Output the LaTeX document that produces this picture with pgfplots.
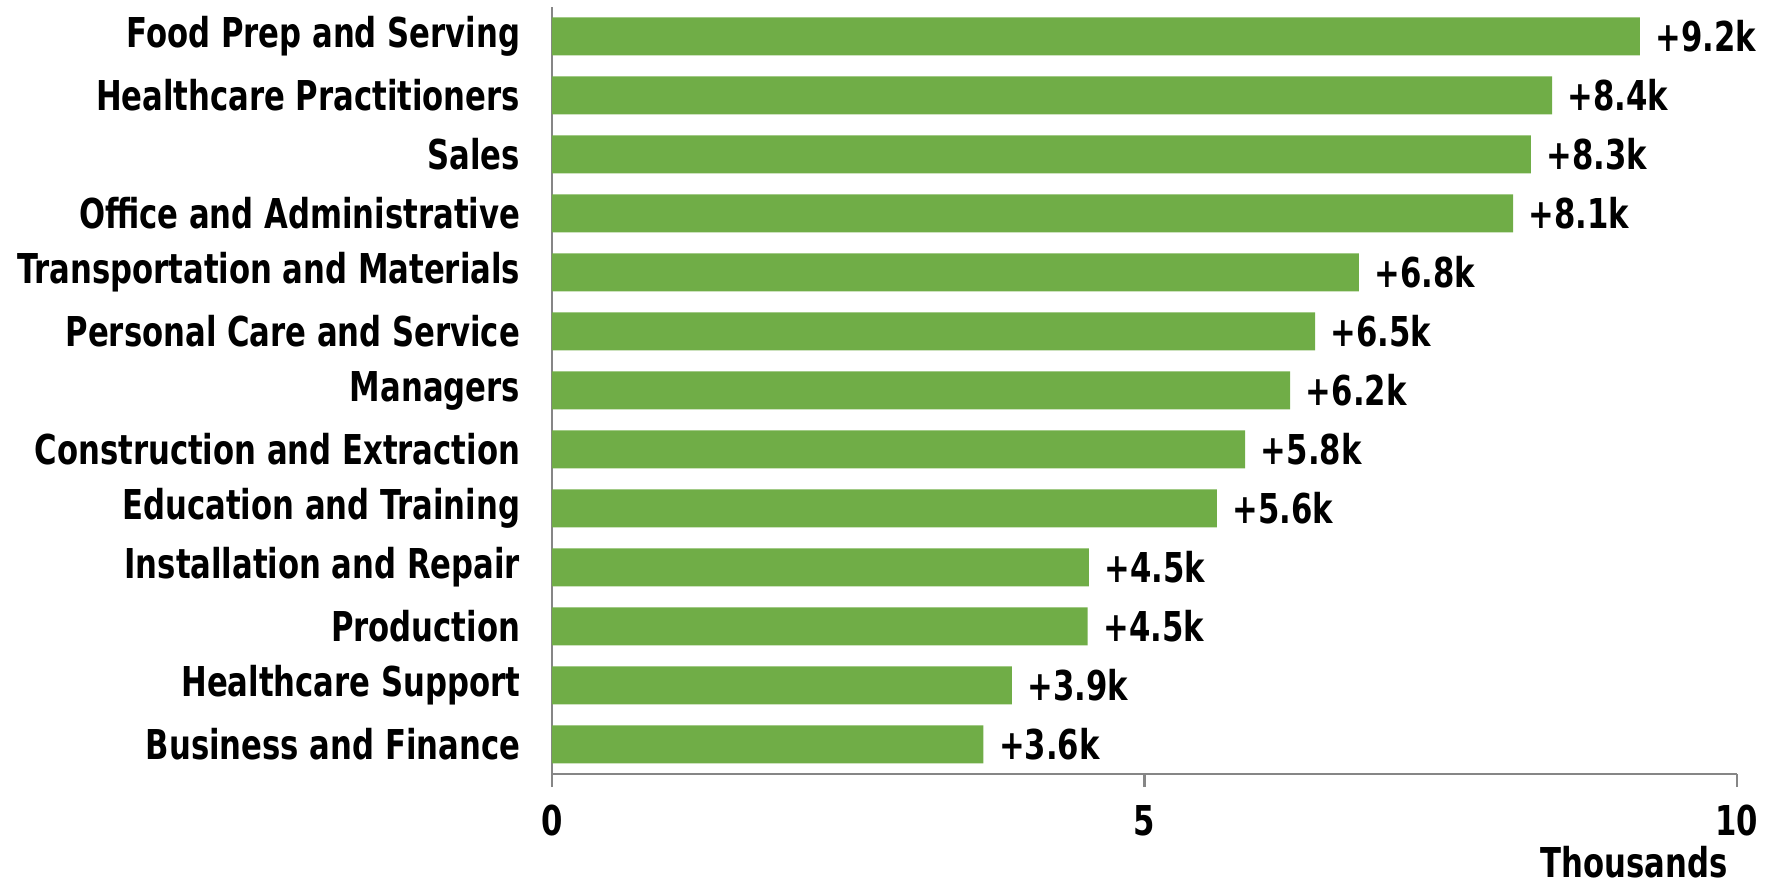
\documentclass[border=0pt]{standalone}
\usepackage{fontspec}
\setmainfont{DejaVu Sans Condensed}[BoldFont={DejaVu Sans Condensed Bold}, FakeStretch=0.83]
\usepackage{pgfplots}
\pgfplotsset{compat=1.18}
\usepackage{pgfplotstable}
\definecolor{bargreen}{HTML}{70AD47}
\definecolor{axisgray}{HTML}{868686}

% job growth by occupation group, thousands
\pgfplotstableread{
idx val lab
12 9.18 +9.2k
11 8.44 +8.4k
10 8.26 +8.3k
9  8.11 +8.1k
8  6.81 +6.8k
7  6.44 +6.5k
6  6.23 +6.2k
5  5.85 +5.8k
4  5.61 +5.6k
3  4.53 +4.5k
2  4.52 +4.5k
1  3.88 +3.9k
0  3.64 +3.6k
}\growth

\begin{document}
\begin{tikzpicture}
\useasboundingbox (-5.52cm,-1.12cm) rectangle (12.14cm,7.74cm);
\begin{axis}[
  at={(0,0)}, anchor=south west,
  scale only axis,
  width=11.85cm, height=7.67cm,
  xbar, bar width=0.38cm,
  xmin=0, xmax=10, ymin=-0.5, ymax=12.5,
  xtick={0,5,10},
  ytick={0,...,12},
  yticklabels={Business and Finance, Healthcare Support, Production,
    Installation and Repair, Education and Training,
    Construction and Extraction, Managers, Personal Care and Service,
    Transportation and Materials, Office and Administrative, Sales,
    Healthcare Practitioners, Food Prep and Serving},
  axis x line*=bottom, axis y line*=left,
  axis line style={axisgray, line width=0.8pt},
  x axis line style={-}, y axis line style={-},
  xtick style={axisgray, line width=0.8pt},
  xtick align=outside, major tick length=0.13cm,
  ytick style={draw=none},
  tick label style={font=\fontsize{11.7}{14}\selectfont\bfseries},
  /pgf/number format/assume math mode=true,
  xticklabel style={yshift=-0.06cm},
  yticklabel style={xshift=-0.065cm},
  xlabel={Thousands},
  xlabel style={font=\fontsize{11.7}{14}\selectfont\bfseries,
    at={(rel axis cs:1,0)}, anchor=north east, inner sep=0pt,
    xshift=-0.09cm, yshift=-0.72cm},
  nodes near coords={\pgfplotspointmeta},
  point meta=explicit symbolic,
  nodes near coords style={anchor=west, inner sep=0pt, xshift=0.15cm,
    font=\fontsize{11.7}{14}\selectfont\bfseries, text=black},
]
\addplot[fill=bargreen, draw=none] table[x=val, y=idx, meta=lab] {\growth};
\end{axis}
\end{tikzpicture}
\end{document}
